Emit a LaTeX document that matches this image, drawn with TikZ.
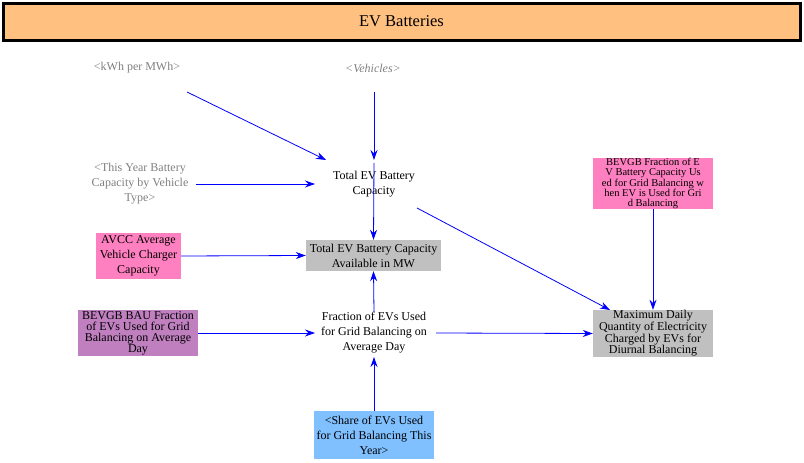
\documentclass[tikz,border=0pt]{standalone}
\usepackage{fontspec}
\setmainfont{Liberation Serif}
\usetikzlibrary{arrows.meta}

\definecolor{titlefill}{HTML}{FFC080}
\definecolor{pinkfill}{HTML}{FF80C0}
\definecolor{purplefill}{HTML}{C080C0}
\definecolor{grayfill}{HTML}{C0C0C0}
\definecolor{bluefill}{HTML}{80C0FF}
\definecolor{shadowtext}{HTML}{808080}

\begin{document}
\begin{tikzpicture}[
    x=1pt, y=-1pt,
    var/.style={align=center, inner sep=1pt, font=\fontsize{12}{15}\selectfont},
    shadow/.style={var, text=shadowtext},
    box/.style={var, inner sep=0pt, minimum width=120pt, minimum height=47pt},
    tight/.style={font=\fontsize{12}{11}\selectfont},
    constant/.style={box, fill=pinkfill},
    baseline/.style={box, fill=purplefill},
    flow/.style={box, fill=grayfill},
    input/.style={box, fill=bluefill},
    arrow/.style={-{Stealth[length=10pt, width=7pt]}, blue, thick},
    title/.style={draw, line width=3pt, fill=titlefill, minimum width=797pt, minimum height=37pt, font=\fontsize{16.5}{18}\selectfont}
]
\useasboundingbox (0,0) rectangle (804,463);

% Header bar
\node[title] (head) at (401.5,21.5) {EV Batteries};

% Shadow variables
\node[shadow] (kwh) at (137,68) {<kWh per MWh>};
\node[shadow, font=\fontsize{12}{15}\selectfont\itshape] (veh) at (373,68) {<Vehicles>};
\node[shadow] (yearcap) at (140,184) {<This Year Battery\\Capacity by Vehicle\\Type>};

% Battery capacity
\node[var] (totcap) at (374,184) {Total EV Battery\\Capacity};
\node[constant, minimum width=85pt, minimum height=46pt] (avcc) at (138.5,256) {AVCC Average\\Vehicle Charger\\Capacity};
\node[flow, minimum width=135pt, minimum height=31pt] (avail) at (373.5,255.5) {Total EV Battery Capacity\\Available in MW};

% Grid balancing fraction
\node[baseline, tight, minimum height=46pt] (bau) at (138,333) {BEVGB BAU Fraction\\of EVs Used for Grid\\Balancing on Average\\Day};
\node[var] (frac) at (374,333) {Fraction of EVs Used\\for Grid Balancing on\\Average Day};
\node[input, minimum height=48pt] (share) at (374,435) {<Share of EVs Used\\for Grid Balancing This\\Year>};

% Daily maximum
\node[constant, font=\fontsize{10.5}{9.6}\selectfont] (capfrac) at (653,183.5) {BEVGB Fraction of E\\V Battery Capacity Us\\ed for Grid Balancing w\\hen EV is Used for Gri\\d Balancing};
\node[flow, tight] (maxday) at (653,333.5) {Maximum Daily\\Quantity of Electricity\\Charged by EVs for\\Diurnal Balancing};

% Links
\coordinate (kwhend) at (187,92);
\coordinate (vehend) at (374,92);
\coordinate (totin) at (326,160);
\coordinate (totout) at (417,208);
\draw[arrow] (kwhend) -- (totin);
\draw[arrow] (vehend) -- (374,160);
\draw[arrow] (yearcap.east) ++(6,0) -- (315,184);
\draw[arrow] (374,163) -- (avail.north);
\draw[arrow] (avcc.east) -- (avail.west);
\draw[arrow] (374,312) -- (avail.south);
\draw[arrow] (bau.east) -- (315,333);
\draw[arrow] (share.north) -- (374,357);
\draw[arrow] (436,333) -- (maxday.west);
\draw[arrow] (totout) -- (610,310);
\draw[arrow] (capfrac.south) -- (maxday.north);

\end{tikzpicture}
\end{document}
